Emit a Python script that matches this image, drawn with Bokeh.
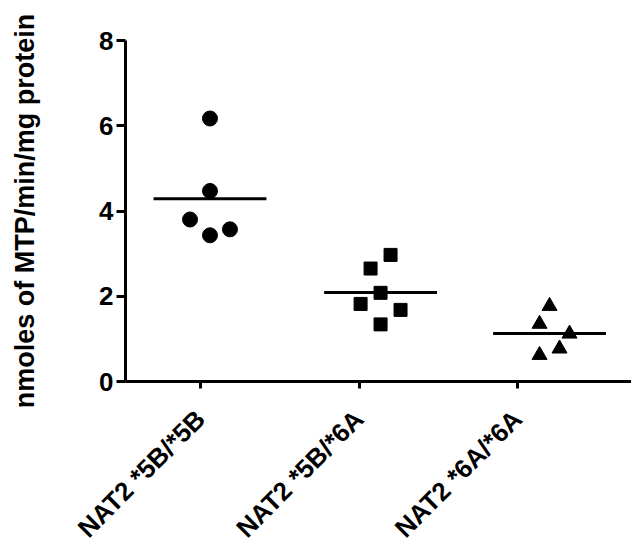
import numpy as np
from bokeh.plotting import figure
from bokeh.models import Range1d, FixedTicker, ColumnDataSource
from bokeh.embed import file_html
from bokeh.resources import INLINE

categories = ["NAT2 *5B/*5B", "NAT2 *5B/*6A", "NAT2 *6A/*6A"]
tick_pos = [0, 1, 2]
group_center = [0.06, 1.136, 2.202]

g1_vals = [6.17, 4.47, 3.80, 3.43, 3.57]
g1_jit = [0.0, 0.0, -0.126, 0.0, 0.126]
g2_vals = [2.97, 2.65, 2.08, 1.82, 1.68, 1.34]
g2_jit = [0.063, -0.063, 0.0, -0.126, 0.126, 0.0]
g3_vals = [1.77, 1.35, 1.12, 0.77, 0.62]
g3_jit = [0.0, -0.063, 0.126, 0.063, -0.063]

y_ticks = [0, 2, 4, 6, 8]
FONT = "Liberation Sans"

p = figure(width=631, height=553, output_backend="svg", toolbar_location=None,
           x_range=Range1d(-0.473, 2.719), y_range=Range1d(0, 8),
           min_border_left=125, min_border_right=0, min_border_top=40, min_border_bottom=172)
p.frame_width = 506
p.frame_height = 341
p.outline_line_color = None
p.grid.visible = False
p.background_fill_color = "white"
p.border_fill_color = "white"

groups = [(g1_vals, g1_jit, "circle", 15), (g2_vals, g2_jit, "square", 13), (g3_vals, g3_jit, "triangle", 15)]
half_w = 0.356
for i, (vals, jit, marker, size) in enumerate(groups):
    xs = [group_center[i] + j for j in jit]
    src = ColumnDataSource(dict(x=xs, y=vals))
    p.scatter("x", "y", source=src, marker=marker, size=size, fill_color="black", line_color="black")
    m = float(np.mean(vals))
    p.segment(x0=[group_center[i] - half_w], y0=[m], x1=[group_center[i] + half_w], y1=[m],
              line_color="black", line_width=3)

# x axis
xa = p.xaxis[0]
xa.ticker = FixedTicker(ticks=tick_pos)
xa.major_label_overrides = {t: c for t, c in zip(tick_pos, categories)}
xa.major_label_orientation = np.pi / 4
xa.major_label_text_font = FONT
xa.major_label_text_font_style = "bold"
xa.major_label_text_font_size = "26px"
xa.major_label_text_color = "black"
xa.axis_line_width = 3
xa.axis_line_color = "black"
xa.major_tick_line_width = 3
xa.major_tick_out = 7
xa.major_tick_in = 0
xa.minor_tick_line_color = None
xa.major_label_standoff = 26

ya = p.yaxis[0]
ya.ticker = FixedTicker(ticks=y_ticks)
ya.major_label_text_font = FONT
ya.major_label_text_font_style = "bold"
ya.major_label_text_font_size = "26px"
ya.major_label_text_color = "black"
ya.axis_line_width = 3
ya.axis_line_color = "black"
ya.major_tick_line_width = 3
ya.major_tick_out = 9
ya.major_tick_in = 0
ya.minor_tick_line_color = None
ya.major_label_standoff = 3
ya.axis_label = "nmoles of MTP/min/mg protein"
ya.axis_label_text_font = FONT
ya.axis_label_text_font_style = "bold"
ya.axis_label_text_font_size = "27px"
ya.axis_label_text_color = "black"
ya.axis_label_standoff = 56

open("out.html", "w").write(file_html(p, INLINE))
